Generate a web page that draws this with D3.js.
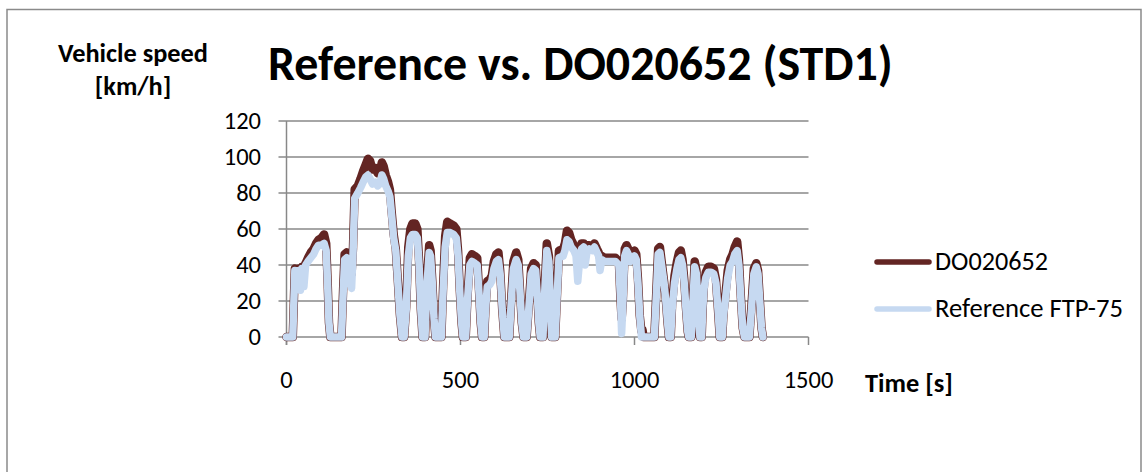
<!DOCTYPE html>
<html>
<head>
<meta charset="utf-8">
<script src="https://cdn.jsdelivr.net/npm/d3@7"></script>
<style>
  html, body { margin: 0; padding: 0; background: #fff; }
  svg { display: block; }
  text { font-family: Carlito, Calibri, Lato, "Liberation Sans", sans-serif; fill: #000; }
</style>
</head>
<body>
<svg id="chart" width="1143" height="472"></svg>
<script>
// FTP-75 reference speed trace, seconds and km/h
const refTime = [0,18,24,30,35,40,44,50,55,62,70,78,85,92,100,108,114,118,122,126,158,163,167,173,178,183,187,191,196,205,213,220,228,234,240,247,255,262,268,274,279,285,292,297,302,308,314,320,326,332,338,344,350,356,362,370,376,381,386,391,398,404,410,414,419,424,428,445,450,456,462,470,480,488,493,498,503,507,515,520,527,533,541,548,553,558,562,568,572,577,584,590,596,603,609,614,620,626,640,646,652,660,666,671,676,681,690,696,703,710,716,720,725,729,737,742,748,754,758,762,772,777,783,795,800,806,812,818,826,832,837,842,848,854,858,864,870,878,885,892,897,901,906,914,925,935,945,955,960,963,966,972,977,982,988,994,1000,1005,1010,1015,1020,1057,1062,1068,1073,1078,1085,1090,1095,1099,1104,1108,1115,1122,1128,1133,1138,1143,1148,1153,1156,1163,1168,1173,1178,1183,1188,1193,1196,1200,1205,1212,1220,1228,1234,1240,1245,1252,1256,1262,1268,1275,1282,1288,1295,1300,1306,1311,1316,1330,1336,1343,1350,1355,1360,1365,1369];
const refSpeed = [0,0,37,27,37,26,38,28,40,42,44,46,49,51,51,52,48,30,8,0,0,25,43,44,42,30,27,45,77,80,83,86,89,90,88,85,86,84,85,90,88,84,81,78,68,55,48,30,12,0,0,15,45,55,57,57,55,40,15,0,0,30,47,45,30,10,0,0,25,50,58,58,57,55,45,25,8,0,0,20,40,42,41,40,25,8,0,0,15,28,29,31,38,42,43,35,15,0,0,20,38,43,40,25,8,0,0,15,35,38,37,25,8,0,0,25,48,42,20,0,0,20,44,45,48,54,53,50,48,45,31,42,49,50,40,48,49,48,50,47,45,37,43,42,42,42,42,40,20,2,15,45,48,46,42,43,45,43,30,12,0,0,20,46,47,40,30,20,8,0,0,15,30,38,43,44,40,30,15,3,0,0,20,39,35,15,0,0,15,27,33,36,36,35,30,15,0,0,12,22,33,40,42,46,48,40,20,5,0,0,15,35,39,35,20,5,0];

// DO020652 measured speed trace, seconds and km/h
const doTime = [0,18,24,30,35,40,44,50,55,62,70,78,85,92,100,108,114,118,122,126,158,163,167,173,178,183,187,191,196,205,213,220,228,234,240,247,255,262,268,274,279,285,292,297,302,308,314,320,326,332,338,344,350,356,362,370,376,381,386,391,398,404,410,414,419,424,428,445,450,456,462,470,480,488,493,498,503,507,515,520,527,533,541,548,553,558,562,568,572,577,584,590,596,603,609,614,620,626,640,646,652,660,666,671,676,681,690,696,703,710,716,720,725,729,737,742,748,754,758,762,772,777,783,795,800,806,812,818,826,832,837,842,848,854,858,864,870,878,885,892,897,901,906,914,925,935,945,955,960,963,966,972,977,982,988,994,1000,1005,1010,1015,1020,1023,1026,1057,1062,1068,1073,1078,1085,1090,1095,1099,1104,1108,1115,1122,1128,1133,1138,1143,1148,1153,1156,1163,1168,1173,1178,1183,1188,1193,1196,1200,1205,1212,1220,1228,1234,1240,1245,1252,1256,1262,1268,1275,1282,1288,1295,1300,1306,1311,1316,1330,1336,1343,1350,1355,1360,1365,1369];
const doSpeed = [0,0,38,36,38,37,39,39,41,44,47,49,52,54,55,57,52,32,8,0,0,28,46,47,46,36,35,49,82,84,88,92,96,99,98,93,94,91,92,97,95,90,86,82,70,57,49,31,12,0,0,17,50,60,63,63,60,42,15,0,0,33,51,48,31,10,0,0,28,56,64,63,62,60,48,26,8,0,0,22,44,46,45,44,27,8,0,0,17,31,32,34,42,46,47,37,15,0,0,22,42,47,43,26,8,0,0,17,38,41,40,27,8,0,0,28,52,45,21,0,0,22,48,49,52,59,58,54,51,49,45,47,52,52,48,51,51,50,52,49,47,44,45,44,44,44,44,42,20,10,18,49,51,49,45,46,48,46,32,12,3,4,0,0,22,49,50,42,31,21,8,0,0,18,34,42,47,48,43,32,16,3,0,0,22,42,37,15,0,0,17,30,36,39,39,38,32,15,0,0,14,25,37,43,46,50,53,43,21,5,0,0,17,38,41,37,21,5,0];

const yTicks = [0, 20, 40, 60, 80, 100, 120];
const xTicks = [0, 500, 1000, 1500];
const seriesNames = ["DO020652", "Reference FTP-75"];
const seriesColors = ["#632523", "#c6d9f1"];

const svg = d3.select("#chart");
const plot = { left: 286.5, right: 808.5, top: 121, bottom: 337 };

const x = d3.scaleLinear().domain([0, 1500]).range([plot.left, plot.right]);
const y = d3.scaleLinear().domain([0, 120]).range([plot.bottom, plot.top]);

// outer chart frame
svg.append("rect")
  .attr("x", 7).attr("y", 9.5).attr("width", 1134).attr("height", 480)
  .attr("fill", "none").attr("stroke", "#8a8a8a").attr("stroke-width", 1.5);

const gridColor = "#888888";

// horizontal gridlines with left tick stubs
svg.append("g").selectAll("line").data(yTicks).join("line")
  .attr("x1", plot.left - 8).attr("x2", plot.right)
  .attr("y1", d => y(d)).attr("y2", d => y(d))
  .attr("stroke", gridColor).attr("stroke-width", 1.5);

// y axis line
svg.append("line")
  .attr("x1", plot.left).attr("x2", plot.left)
  .attr("y1", plot.top).attr("y2", plot.bottom + 8)
  .attr("stroke", gridColor).attr("stroke-width", 1.5);

// x axis ticks (downward)
svg.append("g").selectAll("line").data(xTicks).join("line")
  .attr("x1", d => x(d)).attr("x2", d => x(d))
  .attr("y1", plot.bottom).attr("y2", plot.bottom + 8)
  .attr("stroke", gridColor).attr("stroke-width", 1.5);

// y tick labels
svg.append("g").selectAll("text").data(yTicks).join("text")
  .attr("x", 261).attr("y", d => y(d))
  .attr("text-anchor", "end").attr("dominant-baseline", "central")
  .style("font-size", "24.5px")
  .text(d => d);

// x tick labels
svg.append("g").selectAll("text").data(xTicks).join("text")
  .attr("x", d => x(d)).attr("y", 388)
  .attr("text-anchor", "middle")
  .style("font-size", "24.5px")
  .text(d => d);

// scale a text's font so its rendered width matches the given width
function fitWidth(sel, size, width) {
  sel.style("font-size", size + "px");
  const w = sel.node().getComputedTextLength();
  if (w > 0) sel.style("font-size", (size * width / w) + "px");
  return sel;
}

// chart title
fitWidth(svg.append("text").attr("x", 268).attr("y", 80)
  .style("font-weight", "bold").text("Reference vs. DO020652 (STD1)"), 44, 625);

// y axis title
const yt1 = fitWidth(svg.append("text").attr("x", 133).attr("y", 62)
  .attr("text-anchor", "middle").style("font-weight", "bold").text("Vehicle speed"), 22, 150);
svg.append("text").attr("x", 133).attr("y", 95)
  .attr("text-anchor", "middle").style("font-weight", "bold")
  .style("font-size", yt1.style("font-size")).text("[km/h]");

// x axis title
fitWidth(svg.append("text").attr("x", 865).attr("y", 392)
  .style("font-weight", "bold").text("Time [s]"), 22, 88);

// speed traces
const line = d3.line().x(d => x(d[0])).y(d => y(d[1]));
const doData = d3.zip(doTime, doSpeed);
const refData = d3.zip(refTime, refSpeed);

svg.append("path").datum(doData)
  .attr("d", line).attr("fill", "none")
  .attr("stroke", seriesColors[0]).attr("stroke-width", 8.5)
  .attr("stroke-linejoin", "round").attr("stroke-linecap", "round");

svg.append("path").datum(refData)
  .attr("d", line).attr("fill", "none")
  .attr("stroke", seriesColors[1]).attr("stroke-width", 7.5)
  .attr("stroke-linejoin", "round").attr("stroke-linecap", "round");

// legend
const legendY = [262, 309];
const lg = svg.append("g");
seriesNames.forEach((name, i) => {
  lg.append("line")
    .attr("x1", 877).attr("x2", 929)
    .attr("y1", legendY[i]).attr("y2", legendY[i])
    .attr("stroke", seriesColors[i]).attr("stroke-width", 5.5)
    .attr("stroke-linecap", "round");
});
fitWidth(lg.append("text").attr("x", 935).attr("y", 270).text(seriesNames[0]), 22, 113);
fitWidth(lg.append("text").attr("x", 935).attr("y", 317).text(seriesNames[1]), 22, 188);
</script>
</body>
</html>
